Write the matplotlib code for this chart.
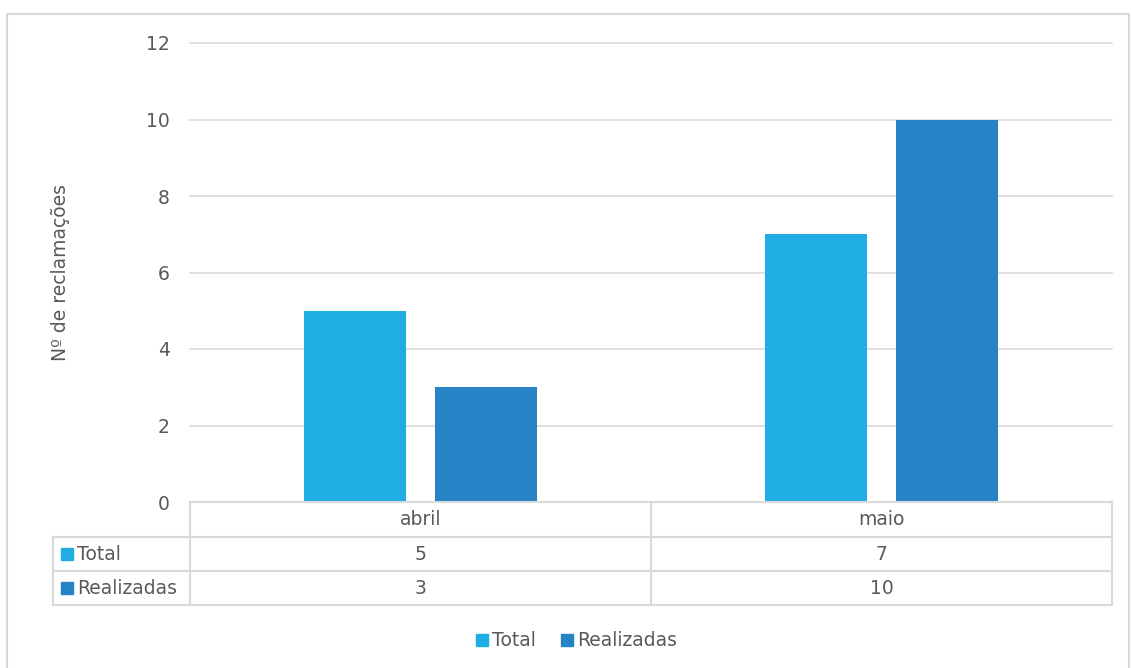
import numpy as np
import matplotlib.pyplot as plt
from matplotlib.patches import Rectangle
from matplotlib.lines import Line2D

# data
months = ["abril", "maio"]
series_names = ["Total", "Realizadas"]
total = [5, 7]
realizadas = [3, 10]
colors = ["#1FADE4", "#2683C6"]

W, H = 1131, 668
fig = plt.figure(figsize=(W / 100, H / 100), dpi=100)
plt.rcParams['font.family'] = ['DejaVu Sans']
txt = "#595959"
grid = "#d9d9d9"
fs = 13.5

def fx(px):
    return px / W

def fy(py):
    return 1 - py / H

# plot area in pixels
L, R, T, B = 190, 1112, 43, 502
ax = fig.add_axes([fx(L), fy(B), fx(R) - fx(L), fy(T) - fy(B)])

x = np.arange(len(months))
bw = 0.223
off = 0.142
ax.bar(x - off, total, bw, color=colors[0], zorder=3)
ax.bar(x + off, realizadas, bw, color=colors[1], zorder=3)
ax.set_xlim(-0.5, len(months) - 0.5)
ax.set_ylim(0, 12)
ax.set_yticks(range(0, 13, 2))
ax.yaxis.grid(True, color=grid, linewidth=1.2, zorder=0)
for gl in ax.get_ygridlines():
    gl.set_clip_on(False)
ax.set_xticks([])
ax.tick_params(axis='y', length=0, pad=14.5, labelsize=fs, labelcolor=txt)
for s in ax.spines.values():
    s.set_visible(False)
ax.set_ylabel("Nº de reclamações", fontsize=fs, color=txt, labelpad=55)

# data table below the axis
rows = [B, 537, 571, 605]
colx = [L, (L + R) / 2, R]
left_col = 53

def hline(x0, x1, y):
    fig.add_artist(Line2D([fx(x0), fx(x1)], [fy(y), fy(y)], color=grid, lw=1.5))

def vline(xp, y0, y1):
    fig.add_artist(Line2D([fx(xp), fx(xp)], [fy(y0), fy(y1)], color=grid, lw=1.5))

hline(L, R, rows[0])
for y in rows[1:]:
    hline(left_col, R, y)
for xp in colx:
    vline(xp, rows[0], rows[-1])
vline(left_col, rows[1], rows[-1])

for i, m in enumerate(months):
    cx = (colx[i] + colx[i + 1]) / 2
    fig.text(fx(cx), fy((rows[0] + rows[1]) / 2), m, ha='center', va='center',
             fontsize=fs, color=txt)
    for r, vals in enumerate([total, realizadas]):
        fig.text(fx(cx), fy((rows[r + 1] + rows[r + 2]) / 2), str(vals[i]),
                 ha='center', va='center', fontsize=fs, color=txt)

for r, name in enumerate(series_names):
    yc = (rows[r + 1] + rows[r + 2]) / 2
    fig.add_artist(Rectangle((fx(61), fy(yc + 6)), fx(12), 12 / H, color=colors[r]))
    fig.text(fx(77), fy(yc), name, ha='left', va='center', fontsize=fs, color=txt)

# legend
leg_y = 640
for xs, name, c in [(476, series_names[0], colors[0]), (561, series_names[1], colors[1])]:
    fig.add_artist(Rectangle((fx(xs), fy(leg_y + 6)), fx(12), 12 / H, color=c))
    fig.text(fx(xs + 16), fy(leg_y), name, ha='left', va='center', fontsize=fs, color=txt)

# outer border (bottom edge falls outside the image)
fig.add_artist(Rectangle((fx(7), fy(672)), fx(1122), fy(14) - fy(672),
                         fill=False, edgecolor=grid, lw=1.5))

fig.savefig("out.png", dpi=100)
